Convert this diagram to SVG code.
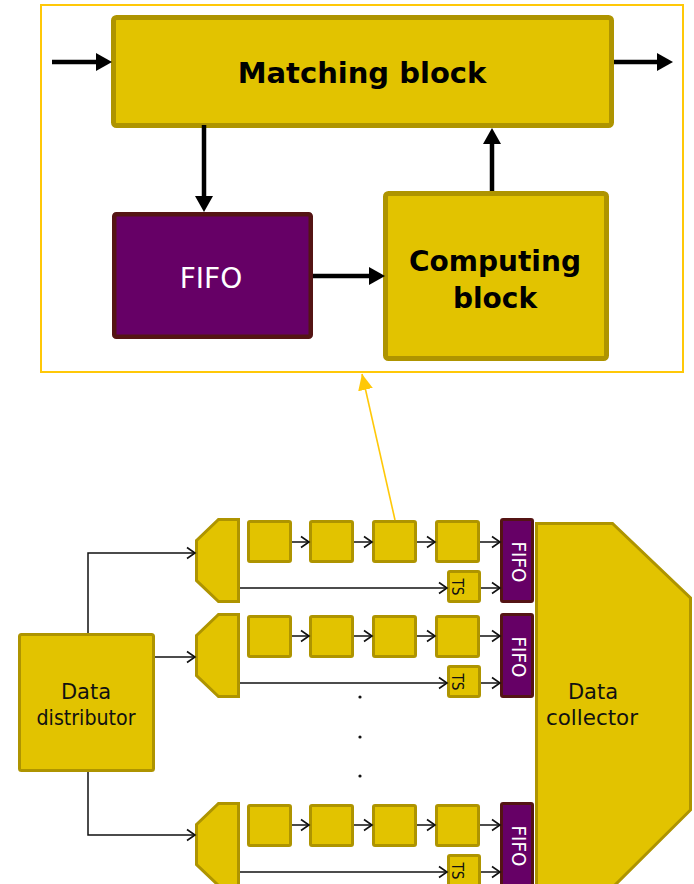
<svg xmlns="http://www.w3.org/2000/svg" width="694" height="884" viewBox="0 0 694 884">
  <style>
    .blk { fill: #E2C300; stroke: #AE9400; }
    .big { stroke-width: 5; }
    .sm { stroke-width: 3; }
    .fifo { fill: #660066; stroke: #541414; }
    .frame { fill: none; stroke: #FFC808; stroke-width: 2; }
    .thick { stroke: #000; stroke-width: 4.5; fill: none; marker-end: url(#headBig); }
    .thin { stroke: #111; stroke-width: 1.5; fill: none; marker-end: url(#headOpen); }
    .hint { stroke: #FFC808; stroke-width: 1.6; fill: none; marker-end: url(#headGold); }
    .tb { font-family: "DejaVu Sans", "Liberation Sans", sans-serif; font-weight: bold; fill: #000; text-anchor: middle; }
    .tr { font-family: "DejaVu Sans", "Liberation Sans", sans-serif; text-anchor: middle; }
  </style>
  <defs>
    <marker id="headBig" markerUnits="userSpaceOnUse" markerWidth="18" markerHeight="19" refX="1" refY="9" orient="auto" viewBox="0 0 18 18">
      <path d="M0,0 L16,9 L0,18 z" fill="#000"/>
    </marker>
    <marker id="headOpen" markerUnits="userSpaceOnUse" markerWidth="12" markerHeight="14" refX="9" refY="6.5" orient="auto" viewBox="0 0 12 13">
      <path d="M1,1 L9,6.5 L1,12" fill="none" stroke="#111" stroke-width="1.6"/>
    </marker>
    <marker id="headGold" markerUnits="userSpaceOnUse" markerWidth="18" markerHeight="16" refX="16" refY="7.5" orient="auto" viewBox="0 0 18 15">
      <path d="M0,0 L16,7.5 L0,15 z" fill="#FFC808"/>
    </marker>
  </defs>

  <!-- detail view: frame -->
  <rect id="detailFrame" class="frame" x="41" y="5" width="642" height="367"/>

  <g id="matchingBlock">
    <rect class="blk big" x="113.5" y="17.5" width="498" height="108" rx="3"/>
    <text class="tb" x="362" y="83" font-size="29">Matching block</text>
  </g>

  <g id="fifoBig">
    <rect class="fifo" stroke-width="4.5" x="114.25" y="214.25" width="196.5" height="122.5" rx="2"/>
    <text class="tr" x="211" y="288" font-size="28" fill="#fff">FIFO</text>
  </g>

  <g id="computingBlock">
    <rect class="blk big" x="385.5" y="193.5" width="221" height="165" rx="3"/>
    <text class="tb" x="495" y="271" font-size="28">Computing</text>
    <text class="tb" x="495" y="308" font-size="28">block</text>
  </g>

  <!-- pipeline nodes -->
  <g id="dataDistributor">
    <rect class="blk sm" x="19.5" y="634.5" width="134" height="136" rx="2"/>
    <text class="tr" x="86" y="699" font-size="21" fill="#111">Data</text>
    <text class="tr" x="86" y="725" font-size="21" fill="#111" textLength="99" lengthAdjust="spacingAndGlyphs">distributor</text>
  </g>

  <g id="dataCollector">
    <polygon class="blk sm" points="536.5,523.5 612.5,523.5 690.5,598 690.5,810 612,888 536.5,888"/>
    <text class="tr" x="593" y="699" font-size="21" fill="#111">Data</text>
    <text class="tr" x="592" y="725" font-size="21" fill="#111" textLength="92" lengthAdjust="spacingAndGlyphs">collector</text>
  </g>

  <!-- lane 1 -->
  <g id="lane1" transform="translate(0,518)">
    <g id="lane1-split"><polygon class="blk sm" points="196.5,22.5 218.5,1.5 238.5,1.5 238.5,83.5 218.5,83.5 196.5,62.5"/></g>
    <g id="lane1-stage1"><rect class="blk sm" x="248.5" y="3.5" width="42" height="40" rx="1.5"/></g>
    <g id="lane1-stage2"><rect class="blk sm" x="310.5" y="3.5" width="42" height="40" rx="1.5"/></g>
    <g id="lane1-stage3"><rect class="blk sm" x="373.5" y="3.5" width="42" height="40" rx="1.5"/></g>
    <g id="lane1-stage4"><rect class="blk sm" x="436.5" y="3.5" width="42" height="40" rx="1.5"/></g>
    <g id="lane1-ts"><rect class="blk sm" x="448.5" y="53.5" width="31" height="30" rx="1.5"/><text class="tr" font-size="16" fill="#111" transform="translate(452,69) rotate(90)" textLength="17" lengthAdjust="spacingAndGlyphs">TS</text></g>
    <g id="lane1-fifo"><rect class="fifo" stroke-width="3" x="501.5" y="1.5" width="31" height="82" rx="1.5"/><text class="tr" font-size="20" fill="#fff" transform="translate(512,44) rotate(90)" textLength="41" lengthAdjust="spacingAndGlyphs">FIFO</text></g>
  </g>

  <!-- lane 2 -->
  <g id="lane2" transform="translate(0,613)">
    <g id="lane2-split"><polygon class="blk sm" points="196.5,22.5 218.5,1.5 238.5,1.5 238.5,83.5 218.5,83.5 196.5,62.5"/></g>
    <g id="lane2-stage1"><rect class="blk sm" x="248.5" y="3.5" width="42" height="40" rx="1.5"/></g>
    <g id="lane2-stage2"><rect class="blk sm" x="310.5" y="3.5" width="42" height="40" rx="1.5"/></g>
    <g id="lane2-stage3"><rect class="blk sm" x="373.5" y="3.5" width="42" height="40" rx="1.5"/></g>
    <g id="lane2-stage4"><rect class="blk sm" x="436.5" y="3.5" width="42" height="40" rx="1.5"/></g>
    <g id="lane2-ts"><rect class="blk sm" x="448.5" y="53.5" width="31" height="30" rx="1.5"/><text class="tr" font-size="16" fill="#111" transform="translate(452,69) rotate(90)" textLength="17" lengthAdjust="spacingAndGlyphs">TS</text></g>
    <g id="lane2-fifo"><rect class="fifo" stroke-width="3" x="501.5" y="1.5" width="31" height="82" rx="1.5"/><text class="tr" font-size="20" fill="#fff" transform="translate(512,44) rotate(90)" textLength="41" lengthAdjust="spacingAndGlyphs">FIFO</text></g>
  </g>

  <!-- lane N -->
  <g id="laneN" transform="translate(0,802)">
    <g id="laneN-split"><polygon class="blk sm" points="196.5,22.5 218.5,1.5 238.5,1.5 238.5,83.5 218.5,83.5 196.5,62.5"/></g>
    <g id="laneN-stage1"><rect class="blk sm" x="248.5" y="3.5" width="42" height="40" rx="1.5"/></g>
    <g id="laneN-stage2"><rect class="blk sm" x="310.5" y="3.5" width="42" height="40" rx="1.5"/></g>
    <g id="laneN-stage3"><rect class="blk sm" x="373.5" y="3.5" width="42" height="40" rx="1.5"/></g>
    <g id="laneN-stage4"><rect class="blk sm" x="436.5" y="3.5" width="42" height="40" rx="1.5"/></g>
    <g id="laneN-ts"><rect class="blk sm" x="448.5" y="53.5" width="31" height="30" rx="1.5"/><text class="tr" font-size="16" fill="#111" transform="translate(452,69) rotate(90)" textLength="17" lengthAdjust="spacingAndGlyphs">TS</text></g>
    <g id="laneN-fifo"><rect class="fifo" stroke-width="3" x="501.5" y="1.5" width="31" height="82" rx="1.5"/><text class="tr" font-size="20" fill="#fff" transform="translate(512,44) rotate(90)" textLength="41" lengthAdjust="spacingAndGlyphs">FIFO</text></g>
  </g>

  <!-- elided lanes -->
  <g id="ellipsis" fill="#111">
    <circle cx="360" cy="697" r="1.6"/>
    <circle cx="360" cy="737" r="1.6"/>
    <circle cx="360" cy="776" r="1.6"/>
  </g>

  <g id="connectors">
    <!-- detail view -->
    <line class="thick" x1="52" y1="62" x2="97" y2="62"/>
    <line class="thick" x1="614" y1="62" x2="658" y2="62"/>
    <line class="thick" x1="204" y1="125" x2="204" y2="197"/>
    <line class="thick" x1="313" y1="276" x2="370" y2="276"/>
    <line class="thick" x1="492" y1="191" x2="492" y2="143"/>
    <!-- zoom pointer -->
    <line class="hint" x1="395" y1="520" x2="362" y2="374"/>
    <!-- distributor to lanes -->
    <path class="thin" d="M88,633 V553 H195"/>
    <path class="thin" d="M155,657 H195"/>
    <path class="thin" d="M88,772 V835 H195"/>
    <!-- lane 1 -->
    <line class="thin" x1="292" y1="542" x2="309" y2="542"/>
    <line class="thin" x1="354" y1="542" x2="372" y2="542"/>
    <line class="thin" x1="417" y1="542" x2="435" y2="542"/>
    <line class="thin" x1="480" y1="542" x2="500" y2="542"/>
    <line class="thin" x1="240" y1="588" x2="447" y2="588"/>
    <line class="thin" x1="481" y1="588" x2="500" y2="588"/>
    <!-- lane 2 -->
    <line class="thin" x1="292" y1="636" x2="309" y2="636"/>
    <line class="thin" x1="354" y1="636" x2="372" y2="636"/>
    <line class="thin" x1="417" y1="636" x2="435" y2="636"/>
    <line class="thin" x1="480" y1="636" x2="500" y2="636"/>
    <line class="thin" x1="240" y1="683" x2="447" y2="683"/>
    <line class="thin" x1="481" y1="683" x2="500" y2="683"/>
    <!-- lane N -->
    <line class="thin" x1="292" y1="825" x2="309" y2="825"/>
    <line class="thin" x1="354" y1="825" x2="372" y2="825"/>
    <line class="thin" x1="417" y1="825" x2="435" y2="825"/>
    <line class="thin" x1="480" y1="825" x2="500" y2="825"/>
    <line class="thin" x1="240" y1="872" x2="447" y2="872"/>
    <line class="thin" x1="481" y1="872" x2="500" y2="872"/>
  </g>
</svg>
